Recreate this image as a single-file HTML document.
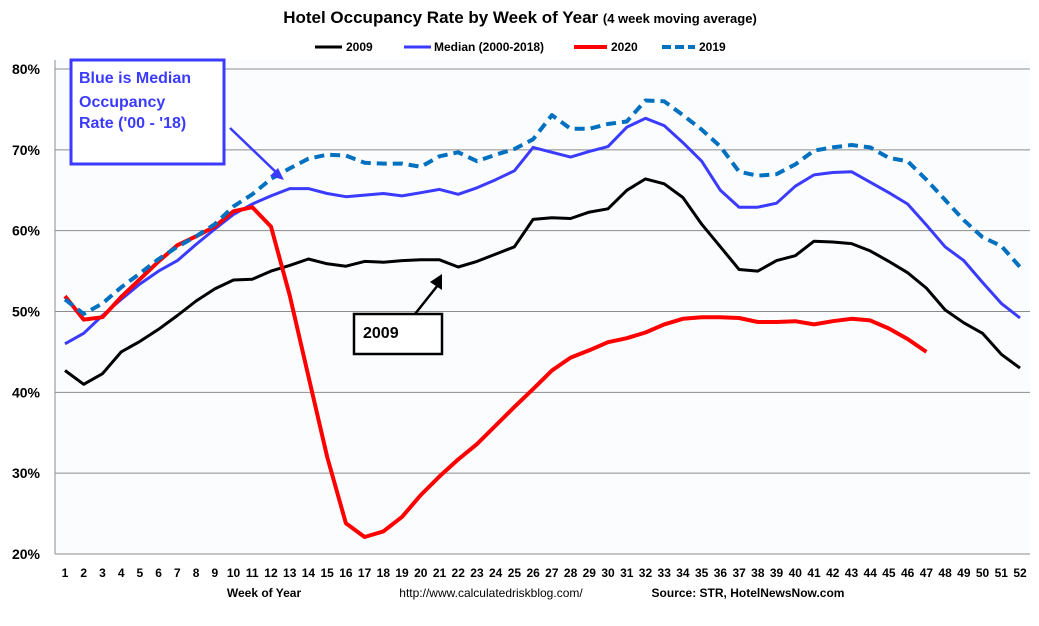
<!DOCTYPE html>
<html><head><meta charset="utf-8"><style>
body{margin:0;background:#fff;font-family:"Liberation Sans",Arial,sans-serif;}
svg text{font-family:"Liberation Sans",Arial,sans-serif;}
</style></head><body>
<svg id="chart" width="1039" height="621" viewBox="0 0 1039 621" xmlns="http://www.w3.org/2000/svg">
<rect width="1039" height="621" fill="#fff"/>
<rect x="55" y="60" width="975" height="494" fill="#fbfcfd"/>
<text x="520" y="23" text-anchor="middle" font-size="17" font-weight="bold">Hotel Occupancy Rate by  Week of Year <tspan font-size="13">(4 week moving average)</tspan></text>
<g id="legend" font-size="12" font-weight="bold">
<line x1="315" y1="47" x2="342" y2="47" stroke="#000" stroke-width="3"/><text x="346" y="51">2009</text>
<line x1="404" y1="47" x2="431" y2="47" stroke="#3b3bff" stroke-width="3"/><text x="434" y="51">Median (2000-2018)</text>
<line x1="574" y1="47" x2="607" y2="47" stroke="#ff0000" stroke-width="4"/><text x="611" y="51">2020</text>
<line x1="662" y1="47" x2="695" y2="47" stroke="#0070c0" stroke-width="4" stroke-dasharray="9,4"/><text x="699" y="51">2019</text>
</g>
<g id="grid"></g><g id="yticks"></g><g id="xticks"></g><g id="series"></g>
<text x="264" y="597" text-anchor="middle" font-size="12" font-weight="bold">Week of Year</text>
<text x="491" y="597" text-anchor="middle" font-size="12">http://www.calculatedriskblog.com/</text>
<text x="748" y="597" text-anchor="middle" font-size="12" font-weight="bold">Source: STR, HotelNewsNow.com</text>
<rect x="71" y="60" width="153" height="104" fill="#fff" stroke="#3b3bff" stroke-width="3"/>
<text font-size="16" font-weight="bold" fill="#3b3bff"><tspan x="79" y="83">Blue is Median</tspan><tspan x="79" y="107">Occupancy</tspan><tspan x="79" y="128">Rate ('00 - '18)</tspan></text>
<line x1="230" y1="128" x2="280" y2="176" stroke="#3b3bff" stroke-width="2.5"/>
<polygon points="284,180 270,176 278,168" fill="#3b3bff"/>
<rect x="354" y="314" width="88" height="40" fill="#fff" stroke="#000" stroke-width="2.5"/>
<text x="363" y="338" font-size="16" font-weight="bold">2009</text>
<line x1="415" y1="314" x2="438" y2="285" stroke="#000" stroke-width="2.5"/>
<polygon points="442,274 442,290 430,282" fill="#000"/>
</svg>
<script>
const weeks=[];for(let i=1;i<=52;i++)weeks.push(i);
const yTicks=[20,30,40,50,60,70,80];
const s2009=[42.7,41,42.3,45,46.3,47.8,49.5,51.3,52.8,53.9,54,55,55.7,56.5,55.9,55.6,56.2,56.1,56.3,56.4,56.4,55.5,56.2,57.1,58,61.4,61.6,61.5,62.3,62.7,65,66.4,65.8,64.1,60.8,58,55.2,55,56.3,56.9,58.7,58.6,58.4,57.5,56.2,54.8,52.9,50.2,48.6,47.3,44.7,43];
const sMedian=[46,47.3,49.5,51.5,53.4,55,56.3,58.3,60.2,62,63.3,64.3,65.2,65.2,64.6,64.2,64.4,64.6,64.3,64.7,65.1,64.5,65.3,66.3,67.4,70.3,69.7,69.1,69.8,70.4,72.8,73.9,73,70.9,68.6,65,62.9,62.9,63.4,65.5,66.9,67.2,67.3,66,64.7,63.3,60.7,58,56.3,53.6,51,49.2];
const s2020=[51.9,49,49.3,51.8,54,56.2,58.2,59.3,60.5,62.4,62.9,60.5,52,42,32,23.8,22.1,22.8,24.6,27.3,29.6,31.7,33.6,35.9,38.2,40.4,42.7,44.3,45.2,46.2,46.7,47.4,48.4,49.1,49.3,49.3,49.2,48.7,48.7,48.8,48.4,48.8,49.1,48.9,47.9,46.6,45];
const s2019=[51.5,49.7,51,53,54.7,56.5,58,59.3,60.8,63,64.5,66.4,67.7,68.9,69.4,69.3,68.4,68.3,68.3,67.9,69.2,69.7,68.6,69.4,70.1,71.3,74.3,72.6,72.6,73.2,73.5,76.1,76,74.3,72.5,70.4,67.3,66.8,67,68.2,69.9,70.3,70.6,70.3,69,68.6,66.3,63.8,61.3,59.2,58.1,55.5];
const NS='http://www.w3.org/2000/svg';
const x=w=>65+(w-1)*(1020-65)/51;
const y=v=>554-(v-20)*(554-69)/60;
function mk(tag,attrs,parent){const e=document.createElementNS(NS,tag);for(const k in attrs)e.setAttribute(k,attrs[k]);parent.appendChild(e);return e;}
const grid=document.getElementById('grid'),yt=document.getElementById('yticks'),xt=document.getElementById('xticks'),ser=document.getElementById('series');
yTicks.forEach(v=>{
 const l=mk('line',{x1:55,x2:1030,y1:y(v),y2:y(v),stroke:'#8c8c8c','stroke-width':1},grid);
 
 
 const t=mk('text',{x:40,y:y(v)+5,'text-anchor':'end','font-size':14,'font-weight':'bold'},yt);
 t.textContent=v+'%';
 
 
});
mk('line',{x1:55,x2:55,y1:60,y2:554,stroke:'#8c8c8c'},grid);
weeks.forEach(w=>{
 const t=mk('text',{x:x(w),y:577,'text-anchor':'middle','font-size':12,'font-weight':'bold'},xt);
 t.textContent=w;
 
 
});
function line(data,color,width,dash,name){
 const pts=data.map((v,i)=>x(weeks[i]).toFixed(1)+','+y(v).toFixed(1)).join(' ');
 const p=mk('polyline',{points:pts,fill:'none',stroke:color,'stroke-width':width,'stroke-linejoin':'round'},ser);
 if(dash)p.setAttribute('stroke-dasharray',dash);
 
 
}
line(s2009,'#000',3,null,'series-2009');
line(sMedian,'#3b3bff',3,null,'series-median');
line(s2020,'#ff0000',4,null,'series-2020');
line(s2019,'#0070c0',4,'10,6','series-2019');
</script>
</body></html>
